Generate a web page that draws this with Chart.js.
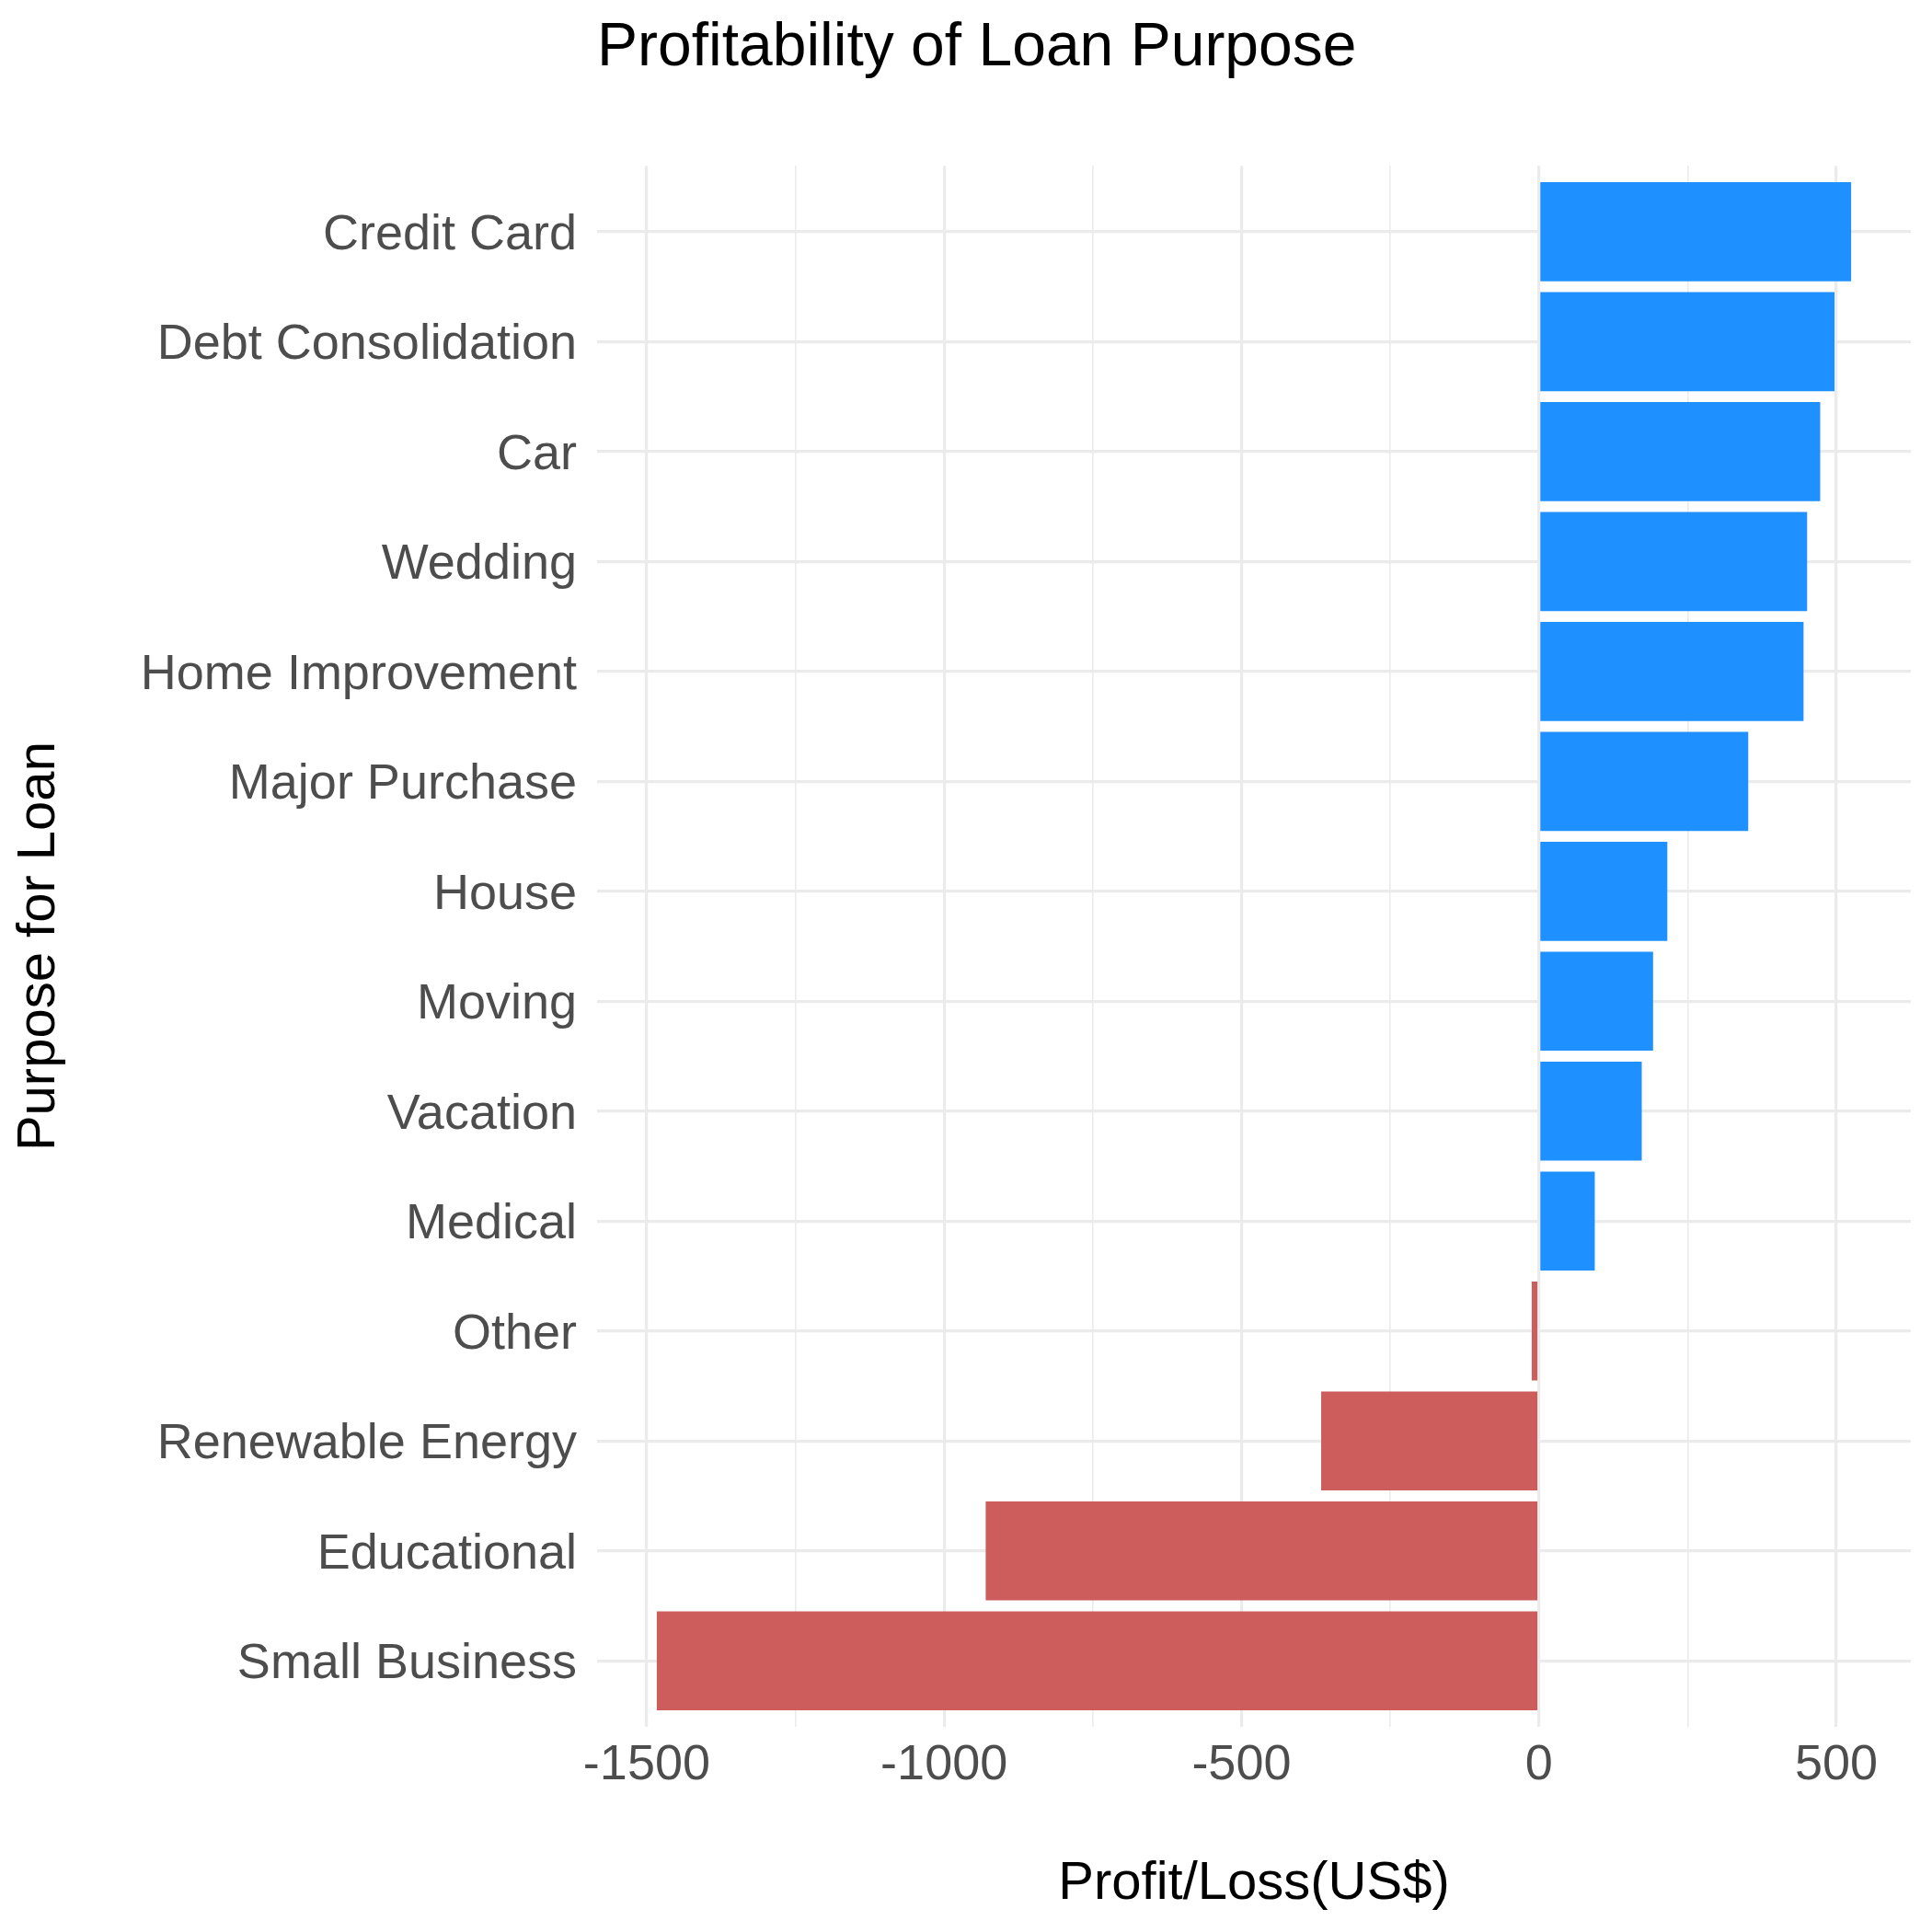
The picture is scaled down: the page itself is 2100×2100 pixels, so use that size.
<!DOCTYPE html>
<html>
<head>
<meta charset="utf-8">
<title>Profitability of Loan Purpose</title>
<script src="https://cdn.jsdelivr.net/npm/chart.js@4/dist/chart.umd.min.js"></script>
<style>
  html, body { margin: 0; padding: 0; background: #ffffff; }
  #wrap { width: 2100px; height: 2100px; }
</style>
</head>
<body>
<div id="wrap"><canvas id="loanChart" width="2100" height="2100"></canvas></div>
<script>
// data
const categories = ['Credit Card', 'Debt Consolidation', 'Car', 'Wedding', 'Home Improvement',
  'Major Purchase', 'House', 'Moving', 'Vacation', 'Medical', 'Other',
  'Renewable Energy', 'Educational', 'Small Business'];
const profits = [525, 497, 473, 451, 445, 352, 216, 192, 173, 94, -12, -366, -930, -1483];
const majorTicks = [-1500, -1000, -500, 0, 500];
const minorTicks = [-1250, -750, -250, 250];
const xMin = -1583.4;
const xMax = 625.4;

const FONT = "'Liberation Sans', Arial, Helvetica, sans-serif";
const GRID = '#EBEBEB';

document.addEventListener('DOMContentLoaded', function() {
  const ctx = document.getElementById('loanChart').getContext('2d');

  new Chart(ctx, {
    type: 'bar',
    data: {
      datasets: [{
        label: 'Profit/Loss',
        data: profits.map((v, i) => ({ x: v, y: i })),
        backgroundColor: profits.map(v => v >= 0 ? '#1E90FF' : '#CD5C5C'),
        borderWidth: 0,
        barPercentage: 0.9,
        categoryPercentage: 1.0
      }]
    },
    options: {
      indexAxis: 'y',
      responsive: false,
      animation: false,
      devicePixelRatio: 1,
      layout: { padding: { top: 0, right: 23, bottom: 0, left: 0 } },
      plugins: {
        legend: { display: false },
        tooltip: { enabled: false },
        title: {
          display: true,
          text: 'Profitability of Loan Purpose',
          align: 'start',
          fullSize: false,
          color: '#000000',
          font: { family: FONT, size: 66, weight: 'normal' },
          padding: { top: 13, bottom: 88 }
        }
      },
      scales: {
        x: {
          type: 'linear',
          min: xMin,
          max: xMax,
          afterBuildTicks: (scale) => {
            scale.ticks = majorTicks.concat(minorTicks)
              .sort((a, b) => a - b)
              .map(v => ({ value: v }));
          },
          afterFit: (scale) => { scale.height = 223; },
          border: { display: false },
          grid: {
            color: GRID,
            drawTicks: false,
            lineWidth: (c) => majorTicks.includes(c.tick && c.tick.value) ? 3.2 : 1.6
          },
          ticks: {
            autoSkip: false,
            maxRotation: 0,
            padding: 10,
            color: '#4D4D4D',
            font: { family: FONT, size: 54 },
            callback: (v) => majorTicks.includes(v) ? String(v) : ''
          },
          title: {
            display: true,
            text: 'Profit/Loss(US$)',
            color: '#000000',
            font: { family: FONT, size: 58 },
            padding: { top: 62, bottom: 17 }
          }
        },
        y: {
          type: 'linear',
          reverse: true,
          offset: false,
          min: -0.6,
          max: categories.length - 0.4,
          afterBuildTicks: (scale) => {
            scale.ticks = categories.map((c, i) => ({ value: i }));
          },
          afterFit: (scale) => { scale.width = 649; },
          border: { display: false },
          grid: { color: GRID, lineWidth: 3.2, drawTicks: false, offset: false },
          ticks: {
            autoSkip: false,
            padding: 22,
            labelOffset: 4,
            color: '#4D4D4D',
            font: { family: FONT, size: 54 },
            callback: (v) => categories[v]
          },
          title: {
            display: true,
            text: 'Purpose for Loan',
            color: '#000000',
            font: { family: FONT, size: 58 },
            padding: { top: 8, bottom: 0 }
          }
        }
      }
    }
  });
});
</script>
</body>
</html>
